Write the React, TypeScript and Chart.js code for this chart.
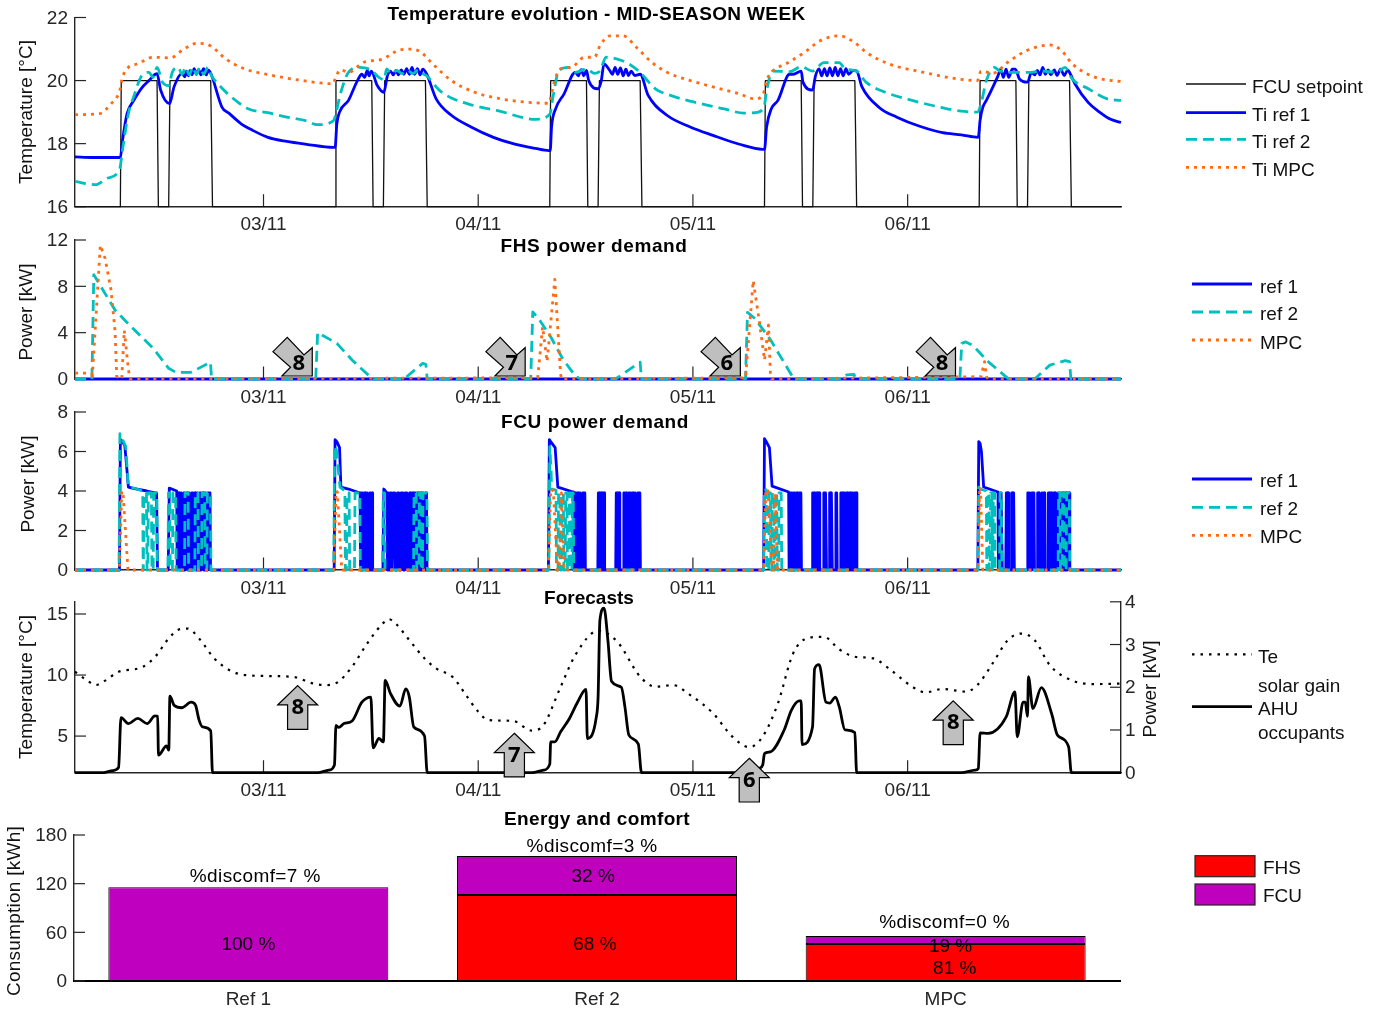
import React, { useEffect, useRef } from "react";
import { Chart, registerables } from "chart.js";

Chart.register(...registerables);

type Pair = [number, number];

// ---- time axis: hours since 02/11 00:00 ----
const xMin = 2.93;
const xMax = 119.85;
const xTickHours = [24, 48, 72, 96];
const xTickLabels = ["03/11", "04/11", "05/11", "06/11"];

// ---- Temperature panel ----
const fcuSetpoint: Pair[] = [
  [2.93, 16], [8, 16], [8.1, 20], [12.1, 20], [12.25, 16], [13.4, 16], [13.55, 20], [18.1, 20], [18.3, 16],
  [32, 16], [32.1, 20], [36.1, 20], [36.25, 16], [37.4, 16], [37.55, 20], [42.1, 20], [42.3, 16],
  [56, 16], [56.1, 20], [60.1, 20], [60.25, 16], [61.4, 16], [61.55, 20], [66.1, 20], [66.3, 16],
  [80, 16], [80.1, 20], [84.1, 20], [84.25, 16], [85.4, 16], [85.55, 20], [90.1, 20], [90.3, 16],
  [104, 16], [104.1, 20], [108.1, 20], [108.25, 16], [109.4, 16], [109.55, 20], [114.1, 20], [114.3, 16], [119.85, 16],
];
const tiRef1: Pair[] = [
  [2.93, 17.58], [4.8, 17.56], [8, 17.56], [8.24, 18.1], [8.75, 18.95], [9.5, 19.37], [10.4, 19.77], [11.2, 20], [11.9, 20.2], [12.1, 20.22],
  [12.5, 19.7], [13.5, 19.27], [14, 19.8], [14.9, 20.23], [15.2, 20.12], [15.4, 20.3], [15.6, 20.15], [15.8, 20.32], [16, 20.18], [16.25, 20.38], [16.5, 20.2], [16.75, 20.35], [17, 20.18], [17.3, 20.38], [17.6, 20.18], [17.85, 20.33], [18.15, 20.2],
  [19.35, 19.16], [20.2, 18.95], [21.5, 18.63], [22.8, 18.42], [24.5, 18.2], [26.6, 18.07], [28.8, 17.98], [31.8, 17.88], [32, 17.88],
  [32.2, 18.63], [32.5, 19], [33.5, 19.37], [34.5, 20], [35, 20.2], [35.3, 20.1], [35.6, 20.32], [35.8, 20.15], [36.05, 20.3],
  [36.7, 19.85], [37.45, 19.63], [37.85, 20.15], [38.2, 20.3], [38.5, 20.18], [38.8, 20.32], [39.1, 20.18], [39.4, 20.34], [39.7, 20.2], [40, 20.38], [40.3, 20.2], [40.6, 20.42], [40.9, 20.2], [41.2, 20.38], [41.5, 20.18], [41.8, 20.36], [42.25, 20.2],
  [43.3, 19.42], [45, 18.9], [47.2, 18.53], [49.7, 18.2], [51.9, 18], [54.4, 17.85], [55.9, 17.78], [56.05, 17.78],
  [56.2, 18.53], [56.65, 19.1], [57.6, 19.58], [58.85, 20.26], [59.2, 20.15], [59.5, 20.35], [59.8, 20.15], [60.1, 20.32],
  [60.35, 20], [61.4, 19.74], [61.76, 20], [62.06, 20.53], [62.7, 20.32], [63, 20.2], [63.3, 20.42], [63.6, 20.2], [63.9, 20.4], [64.2, 20.15], [64.5, 20.36], [64.8, 20.16], [65.1, 20.3], [65.5, 20.16], [66.1, 20.2],
  [67, 19.53], [69.1, 18.9], [71.7, 18.53], [74.25, 18.26], [77.2, 17.98], [79.8, 17.82], [80, 17.82],
  [80.24, 18.53], [80.75, 19.1], [81.5, 19.37], [82.8, 20.2], [83.2, 20.2], [84.1, 20.3], [84.3, 19.95], [85.37, 19.7], [85.7, 20.15], [86.1, 20.37],
  [86.4, 20.15], [86.7, 20.38], [87, 20.15], [87.3, 20.4], [87.6, 20.15], [87.9, 20.42], [88.2, 20.15], [88.5, 20.38], [88.8, 20.15], [89.1, 20.38], [89.4, 20.2], [89.9, 20.32], [90.3, 20.3],
  [90.9, 19.8], [92.85, 19.14], [94.8, 18.84], [97.35, 18.55], [99.9, 18.35], [102, 18.28], [103.9, 18.2],
  [104.1, 18.74], [104.4, 19.15], [104.8, 19.37], [106.1, 20.15], [106.4, 20.36], [106.7, 20.1], [107, 20.36], [107.3, 20.1], [107.7, 20.36], [108.04, 20.36],
  [108.5, 20.05], [109.4, 19.95], [109.84, 20.26], [110.2, 20.18], [110.5, 20.32], [110.8, 20.18], [111.1, 20.42], [111.4, 20.2], [111.7, 20.34], [112, 20.18], [112.4, 20.34], [112.7, 20.16], [113.1, 20.36], [113.5, 20.16], [113.9, 20.34], [114.2, 20.2],
  [114.7, 19.9], [116.2, 19.3], [117.45, 19], [118.7, 18.77], [119.85, 18.67],
];
const tiRef2: Pair[] = [
  [2.93, 16.8], [5.24, 16.7], [6.5, 16.9], [7.93, 17.2], [8.24, 17.8], [8.9, 18.95], [9.5, 19.5], [10.4, 20.16], [11.2, 20.26], [11.65, 20.1], [12.1, 20.42],
  [12.7, 19.95], [13.4, 19.84], [13.8, 20.26], [14.45, 20.42], [14.9, 20.2], [15.3, 20.42], [15.7, 20.18], [16.1, 20.42], [16.5, 20.2], [16.9, 20.42], [17.3, 20.2], [17.8, 20.42], [18.2, 20.15],
  [18.9, 19.9], [20.2, 19.53], [22.35, 19.1], [24.5, 18.98], [26.6, 18.84], [28.8, 18.72], [30, 18.6], [31.8, 18.72],
  [32.05, 18.9], [32.6, 19.58], [33.5, 20.26], [34.75, 20.42], [36, 20.34], [36.9, 20.1], [37.5, 20.03], [37.75, 20.37],
  [38.3, 20.22], [38.9, 20.32], [39.5, 20.22], [40.1, 20.32], [40.7, 20.22], [41.3, 20.34], [41.8, 20.22], [42.2, 20.16],
  [43.7, 19.68], [45, 19.45], [47.6, 19.2], [50.15, 19.05], [53.6, 18.79], [54.4, 18.77], [56, 18.93],
  [56.35, 19.47], [57, 20.3], [58.07, 20.42], [58.85, 20.26], [60.1, 20.37], [61, 20.23], [61.6, 20.3], [62.3, 20.74], [63.56, 20.68], [64.84, 20.53], [66.1, 20.26],
  [67.8, 19.74], [69.5, 19.53], [72.97, 19.26], [75.5, 19.1], [77.7, 18.97], [78.95, 18.98], [79.95, 19.16],
  [80.24, 19.68], [80.9, 20.3], [82.8, 20.28], [84.1, 20.44], [85.37, 20.3], [86.65, 20.57], [88.36, 20.57], [89, 20.37], [90.3, 20.3],
  [91.35, 19.95], [93.5, 19.63], [96.5, 19.37], [99.9, 19.14], [102, 19.03], [103.8, 19],
  [104.2, 19.26], [104.8, 20], [105.7, 20.42], [106.3, 20.3], [108, 20.26], [109.75, 20.26], [111, 20.3], [112.7, 20.26], [113.6, 20.42], [114.4, 20.05],
  [116.2, 19.74], [118.3, 19.42], [119.85, 19.37],
];
const tiMpc: Pair[] = [
  [2.93, 18.92], [5.66, 18.95], [6.95, 19.26], [7.93, 19.68], [8.24, 20.1], [8.9, 20.42], [9.95, 20.53], [11.65, 20.74], [13.6, 20.72], [15.1, 21], [16.6, 21.18], [18.1, 21.1],
  [19.8, 20.68], [21.9, 20.37], [24.5, 20.19], [27.9, 20.02], [31.8, 19.9],
  [32, 20.05], [32.6, 20.34], [33.5, 20.26], [35.2, 20.58], [37.3, 20.68], [39, 20.95], [40.5, 21], [41.6, 20.9], [42.9, 20.53],
  [45, 20], [47.6, 19.63], [50.15, 19.44], [53.15, 19.32], [55.9, 19.28],
  [56.1, 19.47], [56.55, 20], [57.2, 20.37], [58.4, 20.42], [59.9, 20.74], [61, 20.74], [61.6, 21.1], [62.7, 21.42], [64.2, 21.42], [65.7, 21.05],
  [67.4, 20.58], [69.1, 20.26], [71.7, 20], [74.25, 19.8], [77.2, 19.58], [78.95, 19.42], [79.8, 19.53],
  [80.24, 20], [80.9, 20.3], [82.4, 20.53], [84.5, 20.9], [86.2, 21.26], [88.36, 21.42], [90.1, 21.2], [91.35, 20.9],
  [93.9, 20.53], [97.8, 20.26], [101.6, 20.05], [103.8, 20],
  [104.2, 20.3], [105.5, 20.23], [107.2, 20.58], [109.3, 20.95], [111.9, 21.13], [113.2, 20.95], [114.4, 20.53], [117, 20.1], [119.85, 19.97],
];

// ---- FHS panel ----
const fhsRef1: Pair[] = [[2.93, 0], [119.85, 0]];
const fhsRef2: Pair[] = [
  [2.93, 0], [4.82, 0], [5.03, 9], [7.4, 5.96], [8.66, 4.95], [11.66, 2.65], [13.4, 0.92], [14.2, 0.58], [15.9, 0.58], [18.07, 1.44], [18.2, 0],
  [29.84, 0], [30.05, 4], [32.2, 3.08], [33.9, 1.64], [36, 0.14], [36.3, 0], [39.7, 0], [41.8, 1.35], [42.15, 1.27], [42.3, 0],
  [53.87, 0], [54.1, 5.8], [54.85, 5.1], [56.1, 3.65], [57.4, 1.8], [58.9, 0.2], [59.5, 0], [63.35, 0], [65.9, 1.35], [66.1, 1.44], [66.25, 0],
  [77.88, 0], [78.1, 5.75], [78.95, 5.2], [80.66, 3.4], [82.8, 0.63], [83.3, 0], [88.6, 0], [89.2, 0.35], [90, 0.4], [90.2, 0],
  [101.84, 0], [102.05, 3.08], [102.5, 3.2], [103.3, 2.9], [105, 1.5], [107.2, 0.05], [107.6, 0], [110.2, 0], [111.9, 1.2], [113.6, 1.58], [114.1, 1.5], [114.25, 0], [119.85, 0],
];
const fhsMpc: Pair[] = [
  [2.93, 0.5], [4.8, 0.5], [4.85, 0], [5.76, 11.55], [6.3, 10.4], [6.95, 7.7], [7.4, 4.2], [7.6, 0.2], [8.15, 0], [8.44, 4.2], [8.9, 0.8], [9.1, 0],
  [54.65, 0.1], [55.2, 4.5], [55.7, 1.5], [56.56, 8.6], [57.2, 0.5], [57.3, 0],
  [77.88, 0.1], [78.74, 8.5], [79.4, 5.1], [80, 1.64], [80.45, 4.66], [80.66, 0.5], [80.8, 0],
  [104.2, 0.2], [104.6, 1.5], [104.8, 0.2], [105, 0], [119.85, 0],
];

// ---- FCU panel: start-up envelopes and on/off pulses ----
const fcuOnLevel = 3.9;
const fcuRef1Head: Pair[] = [
  [2.93, 0], [7.9, 0], [8, 6.6], [8.15, 6.55], [8.5, 6.3], [8.9, 4.2], [9.45, 4.13], [10.95, 4], [11.9, 3.9], [12.05, 3.9], [12.15, 0], [13.35, 0], [13.47, 4.15], [14.3, 4], [14.35, 0],
  [31.9, 0], [32, 6.6], [32.2, 6.5], [32.5, 6.2], [32.65, 4.2], [33.5, 4.1], [34.8, 3.9], [34.85, 0], [37.35, 0], [37.45, 4.1], [37.8, 3.9], [37.85, 0],
  [55.85, 0], [55.95, 6.6], [56.1, 6.5], [56.6, 6.2], [56.9, 4.2], [58.6, 3.95], [58.65, 0],
  [79.9, 0], [80, 6.65], [80.2, 6.5], [80.55, 6.2], [80.85, 4.25], [82.7, 3.95], [82.75, 0],
  [103.85, 0], [103.95, 6.5], [104.1, 6.4], [104.25, 6], [104.5, 4.2], [106.1, 3.95], [106.15, 0], [119.85, 0],
];
const fcuRef1Pulses: Pair[] = [
  [14.45, 14.6], [14.75, 14.9], [15.05, 15.2], [15.35, 15.5], [15.65, 15.8], [15.95, 16.1], [16.25, 16.4], [16.55, 16.7], [16.85, 17], [17.15, 17.3], [17.45, 17.6], [17.75, 18.05],
  [34.95, 35.1], [35.25, 35.4], [35.55, 35.7], [35.85, 36], [36.1, 36.2],
  [37.95, 38.05], [38.2, 38.35], [38.5, 38.7], [38.95, 39.15], [39.35, 39.6], [39.8, 40.05], [40.3, 40.45], [40.6, 40.75], [40.9, 41.05], [41.2, 41.35], [41.5, 41.65], [41.8, 41.95], [42.1, 42.25],
  [58.75, 58.9], [59.05, 59.2], [59.35, 59.5], [59.65, 59.95],
  [61.4, 61.55], [61.65, 61.8], [61.9, 62.1], [63.4, 63.55], [63.65, 63.8], [64.25, 64.4], [64.5, 64.6], [64.8, 65.05], [65.2, 65.35], [65.5, 65.65], [65.8, 66.1],
  [82.9, 83.1], [83.25, 83.4], [83.55, 83.7], [83.85, 84.1], [85.35, 85.6], [85.8, 85.95], [86.05, 86.15], [86.6, 86.75], [86.8, 86.9], [87.25, 87.4], [87.45, 87.55], [87.95, 88.1], [88.5, 88.65], [88.72, 88.85], [89.1, 89.3], [89.45, 89.6], [89.75, 89.9], [90.05, 90.3],
  [106.2, 106.35], [106.42, 106.55], [107, 107.15], [107.2, 107.3], [107.6, 107.75], [107.8, 107.9], [109.4, 109.65], [109.85, 110.15], [110.5, 110.65], [110.7, 110.8], [111, 111.15], [111.2, 111.3], [111.7, 111.85], [111.95, 112.1], [112.3, 112.45], [112.5, 112.6], [112.8, 113.05], [113.2, 113.4], [113.55, 113.75], [113.9, 114.1],
];
const fcuRef2Head: Pair[] = [
  [2.93, 0], [7.85, 0], [7.95, 6.9], [8.15, 6.7], [8.6, 6.25], [8.9, 4.2], [9.5, 4.15], [10.5, 4], [10.55, 0],
  [31.85, 0], [31.95, 6.3], [32.15, 6.1], [32.55, 4.2], [33.1, 4], [33.15, 0],
  [55.9, 0], [56, 6.25], [56.15, 5], [56.2, 4.1], [56.7, 4.05], [56.75, 0],
  [79.9, 0], [80, 4.1], [80.2, 4.05], [80.25, 0],
  [103.85, 0], [103.95, 4.2], [104.1, 4.1], [104.8, 4], [104.85, 0], [119.85, 0],
];
const fcuRef2Pulses: Pair[] = [
  [10.6, 10.95], [11.1, 11.5], [11.7, 12.1], [13.35, 13.55], [13.85, 14.2], [15.2, 15.6], [16.35, 16.7], [17.1, 17.45], [17.7, 18.1],
  [33.3, 33.6], [34.2, 34.8], [37.35, 37.55], [40.8, 41.1], [41.4, 41.6], [41.8, 42.3],
  [56.95, 57.15], [57.35, 57.55], [57.75, 57.95], [58.15, 58.35], [58.5, 58.65],
  [80.5, 80.7], [80.85, 81.05], [81.2, 81.4], [81.6, 81.9],
  [104.9, 105.1], [105.25, 105.45], [105.55, 105.75], [106.3, 106.5], [112.85, 113.05], [113.3, 113.5], [113.75, 114.1],
];
const fcuMpc: Pair[] = [
  [2.93, 0], [7.9, 0], [8.15, 4], [8.3, 3.9], [8.85, 0],
  [31.85, 0], [32.1, 4], [32.25, 3.95], [32.75, 0],
  [55.85, 0], [56.1, 4.1], [56.4, 4], [56.85, 0], [57.05, 0], [57.3, 3.9], [57.6, 0],
  [79.9, 0], [80.15, 4.1], [80.4, 4], [80.85, 0], [81, 0], [81.2, 3.9], [81.45, 0],
  [103.85, 0], [104.05, 4.2], [104.15, 4.1], [104.4, 0], [119.85, 0],
];

// ---- Forecast panel ----
const te: Pair[] = [
  [2.93, 10.27], [4.2, 9.6], [5.24, 9.18], [6.3, 9.54], [7.8, 10.27], [10.4, 10.63], [11.9, 11.5], [13.4, 13], [14.65, 13.76], [15.5, 13.81], [16.8, 13], [18.5, 11.36], [20.2, 10.4], [21.9, 10], [24.5, 9.92], [27.7, 9.8], [29.2, 9.37], [30.9, 9.18],
  [32.2, 9.37], [33.9, 10.68], [35.6, 12.6], [37.3, 14.2], [38, 14.58], [38.8, 14.2], [40.3, 12.86], [42, 11.36], [43.3, 10.54], [45.2, 9.8], [46.5, 8.5], [48, 7], [49.1, 6.32], [51.9, 6.24], [54, 5.45], [55.3, 5.9],
  [57.14, 8.9], [58.85, 11.63], [61.4, 13.62], [63.56, 12.72], [66.1, 9.86], [67.8, 9.05], [69.76, 9.18], [71.7, 8.36], [74.25, 6.87], [76.4, 4.96], [78.3, 4.09], [79.8, 4.96],
  [81.5, 7.68], [83.2, 11.77], [84.94, 13.05], [86.65, 13.13], [88.36, 12.1], [90.1, 11.5], [92.2, 11.36], [93.9, 10.54], [96.5, 9.05], [98, 8.58], [99.9, 8.86], [102.5, 8.64], [103.8, 9.18],
  [105.5, 10.95], [107.2, 12.86], [108.7, 13.4], [110.2, 12.86], [111.9, 10.8], [114.45, 9.54], [117, 9.26], [119.85, 9.3],
];
const gains: Pair[] = [
  [2.93, 0], [6.1, 0], [7.15, 0.05], [7.8, 0.12], [8.07, 1.29], [8.9, 1.15], [9.95, 1.27], [11, 1.15], [11.87, 1.33], [12.17, 1.32], [12.26, 0.41], [13.16, 0.63], [13.41, 0.53], [13.54, 1.79], [14, 1.58], [14.87, 1.52], [15.9, 1.65], [16.4, 1.58], [16.8, 1.23], [17.2, 1.07], [18.1, 0.98], [18.3, 0],
  [30.05, 0], [31.3, 0.06], [31.93, 0.18], [32.1, 1.11], [32.4, 1.06], [33, 1.15], [33.9, 1.21], [35, 1.65], [36, 1.77], [36.25, 0.58], [36.9, 0.8], [37.4, 0.72], [37.6, 2.16], [38.2, 1.85], [39.25, 1.56], [39.9, 1.96], [40.3, 1.77], [40.8, 1.07], [42, 0.86], [42.3, 0],
  [54, 0], [55.3, 0.06], [56, 0.2], [56.1, 0.72], [56.55, 0.72], [57.2, 0.95], [58.2, 1.27], [59.1, 1.65], [60.05, 1.95], [60.2, 0.8], [61.2, 1.3], [61.4, 1.77], [61.6, 3.56], [62.06, 3.85], [62.5, 3.09], [62.9, 2.14], [64, 2], [64.4, 1.54], [64.84, 0.88], [65.9, 0.67], [66.25, 0],
  [78.5, 0], [79.4, 0.1], [79.8, 0.18], [80, 0.45], [80.66, 0.49], [82.2, 1], [83, 1.46], [83.87, 1.68], [84.1, 1.68], [84.2, 0.66], [85.37, 1.07], [85.6, 2.43], [86.1, 2.53], [86.87, 1.65], [87.3, 1.63], [87.93, 1.77], [88.36, 1.54], [89, 1], [90.1, 0.94], [90.3, 0],
  [102, 0], [103.55, 0.06], [103.9, 0.1], [104.1, 0.93], [105, 0.92], [107, 1.3], [108, 1.89], [108.25, 0.84], [108.9, 1.65], [109.15, 1.65], [109.4, 1.32], [109.5, 2.25], [110, 1.5], [110.95, 1.99], [112.1, 1.38], [112.75, 0.88], [114, 0.6], [114.3, 0], [119.85, 0],
];

// ---- Callout arrows: [hour, value, number] ----
const fhsArrows: [number, number, string][] = [
  [29.45, 0.26, "8"], [53.25, 0.26, "7"], [77.3, 0.26, "6"], [101.35, 0.26, "8"],
];
const forecastArrows: [number, number, string][] = [
  [27.82, 9.13, "8"], [52.04, 5.23, "7"], [78.3, 3.18, "6"], [101.1, 7.88, "8"],
];

// ---- Energy panel ----
const barCategories = ["Ref 1", "Ref 2", "MPC"];
const energyFhs = [0, 106, 45.5];
const energyFcu = [115.5, 48, 10];
const barNotes: [number, number, string][] = [
  [0.0, 45.6, "100 %"], [0.994, 45.6, "68 %"], [0.989, 129.5, "32 %"], [2.014, 43, "19 %"], [2.026, 16, "81 %"],
  [0.02, 129.5, "%discomf=7 %"], [0.986, 166.5, "%discomf=3 %"], [1.997, 72.7, "%discomf=0 %"],
];

// ---- shared styles ----
const FONT = '"Liberation Sans", Arial, sans-serif';
const FONT_SIZE = 19;
const INK = "#262626";
const BLUE = "#0000ff";
const CYAN = "#00bfbf";
const ORANGE = "#ff6a13";
const RED = "#ff0000";
const PURPLE = "#bf00bf";

const AREA_LEFT = 75;
const AREA_RIGHT = 1121;
const PAGE_W = 1384;

const pts = (a: Pair[]) => a.map(([x, y]) => ({ x, y }));
function withPulses(head: Pair[], pulses: Pair[]) {
  const out: Pair[] = [...head];
  for (const [on, off] of pulses) {
    out.push([on - 0.03, 0], [on + 0.03, fcuOnLevel], [off - 0.03, fcuOnLevel], [off + 0.03, 0]);
  }
  return pts(out.sort((a, b) => a[0] - b[0]));
}
const line = (data: any[], color: string, width: number, dash: number[], order: number, yAxisID = "y", smooth = false) => ({
  data, borderColor: color, backgroundColor: color, borderWidth: width, borderDash: dash, order, yAxisID,
  showLine: true, pointRadius: 0, clip: false, borderCapStyle: "butt", borderJoinStyle: "round",
  ...(smooth ? { cubicInterpolationMode: "monotone" } : { tension: 0 }),
});
const W = 2.8;
const DASH = [11, 6];
const DOT = [3, 5];
const TEDOT = [2.5, 6];

type TextItem = { text: string; x: number; y: number; rot?: boolean; bold?: boolean; spacing?: number };
type LegendItem = { ds: number; x0: number; x1: number; y: number };
type Panel = {
  top: number; height: number; areaTop: number; areaBottom: number;
  kind: "scatter" | "bar";
  datasets: any[];
  y: { min: number; max: number; ticks: number[] };
  y2?: { min: number; max: number; ticks: number[] };
  texts: TextItem[];
  legend: LegendItem[];
  boxes?: { color: string; x0: number; x1: number; y0: number; y1: number }[];
  calloutDiag?: [number, number, string][];
  calloutUp?: [number, number, string][];
};

const DIAG: Pair[] = [[0, 0], [0, -28.3], [-8.3, -21], [-25, -38.7], [-39.3, -24.3], [-21.7, -8.7], [-30.3, 0]];
const UP: Pair[] = [[0, 0], [20, 19.3], [10.1, 19.3], [10.1, 43.7], [-10.1, 43.7], [-10.1, 19.3], [-20, 19.3]];

const panels: Panel[] = [
  {
    top: 0, height: 235, areaTop: 17.5, areaBottom: 206.7, kind: "scatter",
    datasets: [
      line(pts(fcuSetpoint), "#111111", 1.3, [], 4),
      line(pts(tiRef1), BLUE, W, [], 3, "y", true),
      line(pts(tiRef2), CYAN, W, DASH, 2, "y", true),
      line(pts(tiMpc), ORANGE, W, DOT, 1, "y", true),
    ],
    y: { min: 16, max: 22, ticks: [16, 18, 20, 22] },
    texts: [
      { text: "Temperature evolution - MID-SEASON WEEK", x: 596.5, y: 14, bold: true, spacing: 0.36 },
      { text: "Temperature [°C]", x: 26, y: 112, rot: true },
      { text: "FCU setpoint", x: 1252, y: 87 },
      { text: "Ti ref 1", x: 1252, y: 115 },
      { text: "Ti ref 2", x: 1252, y: 142 },
      { text: "Ti MPC", x: 1252, y: 170 },
    ],
    legend: [
      { ds: 0, x0: 1186, x1: 1246, y: 84 },
      { ds: 1, x0: 1186, x1: 1246, y: 112.7 },
      { ds: 2, x0: 1186, x1: 1246, y: 139.3 },
      { ds: 3, x0: 1186, x1: 1246, y: 167.3 },
    ],
  },
  {
    top: 226, height: 185, areaTop: 240, areaBottom: 379, kind: "scatter",
    datasets: [
      line(pts(fhsRef1), BLUE, W, [], 3),
      line(pts(fhsRef2), CYAN, W, DASH, 2),
      line(pts(fhsMpc), ORANGE, W, DOT, 1),
    ],
    y: { min: 0, max: 12, ticks: [0, 4, 8, 12] },
    calloutDiag: fhsArrows,
    texts: [
      { text: "FHS power demand", x: 594, y: 246, bold: true, spacing: 0.6 },
      { text: "Power [kW]", x: 26, y: 312, rot: true },
      { text: "ref 1", x: 1260, y: 287 },
      { text: "ref 2", x: 1260, y: 314 },
      { text: "MPC", x: 1260, y: 343 },
    ],
    legend: [
      { ds: 0, x0: 1192, x1: 1252, y: 284 },
      { ds: 1, x0: 1192, x1: 1252, y: 312 },
      { ds: 2, x0: 1192, x1: 1252, y: 340 },
    ],
  },
  {
    top: 400, height: 200, areaTop: 412, areaBottom: 570, kind: "scatter",
    datasets: [
      line(withPulses(fcuRef1Head, fcuRef1Pulses), BLUE, W, [], 3),
      line(withPulses(fcuRef2Head, fcuRef2Pulses), CYAN, W, DASH, 2),
      line(pts(fcuMpc), ORANGE, W, DOT, 1),
    ],
    y: { min: 0, max: 8, ticks: [0, 2, 4, 6, 8] },
    texts: [
      { text: "FCU power demand", x: 595, y: 422, bold: true, spacing: 0.6 },
      { text: "Power [kW]", x: 28, y: 484, rot: true },
      { text: "ref 1", x: 1260, y: 481 },
      { text: "ref 2", x: 1260, y: 509 },
      { text: "MPC", x: 1260, y: 537 },
    ],
    legend: [
      { ds: 0, x0: 1192, x1: 1252, y: 479 },
      { ds: 1, x0: 1192, x1: 1252, y: 507.3 },
      { ds: 2, x0: 1192, x1: 1252, y: 535.3 },
    ],
  },
  {
    top: 585, height: 222, areaTop: 601.8, areaBottom: 772.7, kind: "scatter",
    datasets: [
      line(pts(te), "#000000", 2.2, TEDOT, 2, "y", true),
      line(pts(gains), "#000000", 2.8, [], 1, "y2", true),
    ],
    y: { min: 2, max: 16, ticks: [5, 10, 15] },
    y2: { min: 0, max: 4, ticks: [0, 1, 2, 3, 4] },
    calloutUp: forecastArrows,
    texts: [
      { text: "Forecasts", x: 589, y: 598, bold: true, spacing: 0 },
      { text: "Temperature [°C]", x: 26, y: 687, rot: true },
      { text: "Power [kW]", x: 1150, y: 689, rot: true },
      { text: "Te", x: 1258, y: 657 },
      { text: "solar gain", x: 1258, y: 686 },
      { text: "AHU", x: 1258, y: 709 },
      { text: "occupants", x: 1258, y: 733 },
    ],
    legend: [
      { ds: 0, x0: 1192, x1: 1252, y: 654.3 },
      { ds: 1, x0: 1192, x1: 1252, y: 706.7 },
    ],
  },
  {
    top: 805, height: 206, areaTop: 835, areaBottom: 981, kind: "bar",
    datasets: [
      { label: "FHS", data: energyFhs, backgroundColor: RED, borderColor: "#000", borderWidth: 1, borderSkipped: false, barPercentage: 0.803, categoryPercentage: 1 },
      { label: "FCU", data: energyFcu, backgroundColor: PURPLE, borderColor: "#000", borderWidth: 1, borderSkipped: false, barPercentage: 0.803, categoryPercentage: 1 },
    ],
    y: { min: 0, max: 180, ticks: [0, 60, 120, 180] },
    texts: [
      { text: "Energy and comfort", x: 597, y: 819, bold: true, spacing: 0.37 },
      { text: "Consumption [kWh]", x: 14, y: 911, rot: true, spacing: 0.25 },
      { text: "FHS", x: 1263, y: 868 },
      { text: "FCU", x: 1263, y: 896 },
    ],
    legend: [],
    boxes: [
      { color: RED, x0: 1195, x1: 1255, y0: 855.7, y1: 876.7 },
      { color: PURPLE, x0: 1195, x1: 1255, y0: 884, y1: 905 },
    ],
  },
];

function makeDecor(p: Panel) {
  return {
    id: "decor",
    beforeDatasetsDraw(chart: any) {
      const { ctx, chartArea, scales } = chart;
      ctx.save();
      ctx.strokeStyle = INK;
      ctx.lineWidth = 1.2;
      const yTicks = (s: any, x: number, dir: number) => {
        for (const t of s.ticks) {
          const py = s.getPixelForValue(t.value);
          ctx.beginPath();
          ctx.moveTo(x, py);
          ctx.lineTo(x + dir * 11, py);
          ctx.stroke();
        }
      };
      yTicks(scales.y, chartArea.left, 1);
      if (scales.y2) yTicks(scales.y2, chartArea.right, -1);
      if (p.kind === "scatter") {
        for (const t of scales.x.ticks) {
          const px = scales.x.getPixelForValue(t.value);
          ctx.beginPath();
          ctx.moveTo(px, chartArea.bottom);
          ctx.lineTo(px, chartArea.bottom - 12.5);
          ctx.stroke();
        }
      }
      ctx.restore();
    },
    afterDraw(chart: any) {
      const { ctx, scales } = chart;
      const offY = p.top;
      ctx.save();
      const arrow = (shape: Pair[], hour: number, val: number, scaleY: any, label: string, dx: number, dy: number) => {
        const tx = scales.x.getPixelForValue(hour);
        const ty = scaleY.getPixelForValue(val);
        ctx.beginPath();
        shape.forEach(([sx, sy], i) => (i ? ctx.lineTo(tx + sx, ty + sy) : ctx.moveTo(tx + sx, ty + sy)));
        ctx.closePath();
        ctx.fillStyle = "#bfbfbf";
        ctx.strokeStyle = "#000";
        ctx.lineWidth = 1.2;
        ctx.fill();
        ctx.stroke();
        ctx.fillStyle = "#000";
        ctx.font = `bold 22px "Open Sans", ${FONT}`;
        ctx.textAlign = "center";
        ctx.textBaseline = "middle";
        ctx.fillText(label, tx + dx, ty + dy);
      };
      (p.calloutDiag || []).forEach(([h, v, l]) => arrow(DIAG, h, v, scales.y, l, -13.5, -12.5));
      (p.calloutUp || []).forEach(([h, v, l]) => arrow(UP, h, v, scales.y, l, 0, 22));

      if (p.kind === "bar") {
        ctx.fillStyle = "#000";
        ctx.textAlign = "center";
        ctx.textBaseline = "middle";
        barNotes.forEach(([c, v, t]) => {
          const base = Math.round(c);
          const band = scales.x.getPixelForValue(1) - scales.x.getPixelForValue(0);
          ctx.save();
          ctx.font = `${FONT_SIZE}px ${FONT}`;
          (ctx as any).letterSpacing = t.startsWith("%") ? "0.4px" : "0px";
          ctx.fillText(t, scales.x.getPixelForValue(base) + (c - base) * band, scales.y.getPixelForValue(v) + 1);
          ctx.restore();
        });
      }

      p.legend.forEach((l) => {
        const d = chart.data.datasets[l.ds];
        ctx.beginPath();
        ctx.setLineDash(d.borderDash || []);
        ctx.strokeStyle = d.borderColor;
        ctx.lineWidth = d.borderWidth;
        ctx.moveTo(l.x0, l.y - offY);
        ctx.lineTo(l.x1, l.y - offY);
        ctx.stroke();
      });
      ctx.setLineDash([]);
      (p.boxes || []).forEach((b) => {
        ctx.fillStyle = b.color;
        ctx.strokeStyle = "#262626";
        ctx.lineWidth = 1.2;
        ctx.fillRect(b.x0, b.y0 - offY, b.x1 - b.x0, b.y1 - b.y0);
        ctx.strokeRect(b.x0, b.y0 - offY, b.x1 - b.x0, b.y1 - b.y0);
      });

      p.texts.forEach((t) => {
        ctx.save();
        ctx.font = `${t.bold ? "bold " : ""}${FONT_SIZE}px ${FONT}`;
        (ctx as any).letterSpacing = `${t.spacing || 0}px`;
        ctx.fillStyle = t.bold ? "#000" : "#111";
        ctx.textBaseline = "middle";
        if (t.rot) {
          ctx.translate(t.x + 1, t.y - offY);
          ctx.rotate(-Math.PI / 2);
          ctx.textAlign = "center";
          ctx.fillText(t.text, 0, 0);
        } else {
          ctx.textAlign = t.bold ? "center" : "left";
          ctx.fillText(t.text, t.x, t.y - offY + 1);
        }
        ctx.restore();
      });
      ctx.restore();
    },
  };
}

function makeConfig(p: Panel): any {
  const tickFont = { family: FONT, size: FONT_SIZE };
  const padTop = p.areaTop - p.top;
  const xHeight = p.height - (p.areaBottom - p.top);
  const isBar = p.kind === "bar";
  const left = isBar ? 74 : AREA_LEFT;
  const yScale = (cfg: { min: number; max: number; ticks: number[] }, position: string, width: number, pad: number) => ({
    type: "linear",
    position,
    min: cfg.min,
    max: cfg.max,
    stacked: isBar,
    grid: { display: false, drawTicks: false },
    border: { display: true, color: INK, width: 1.4 },
    ticks: { font: tickFont, color: INK, padding: pad, autoSkip: false, maxRotation: 0, labelOffset: 1 },
    afterBuildTicks: (s: any) => { s.ticks = cfg.ticks.map((value) => ({ value })); },
    afterFit: (s: any) => { s.width = width; s.paddingTop = 0; s.paddingBottom = 0; },
  });
  const scales: any = {
    y: yScale(p.y, "left", left, 7),
    x: isBar
      ? {
          type: "category", stacked: true,
          grid: { display: false, drawTicks: false },
          border: { display: true, color: "#000", width: 2 },
          ticks: { font: tickFont, color: INK, padding: 7, maxRotation: 0 },
          afterFit: (s: any) => { s.height = xHeight; s.paddingLeft = 0; s.paddingRight = 0; },
        }
      : {
          type: "linear", min: xMin, max: xMax,
          grid: { display: false, drawTicks: false },
          border: { display: true, color: INK, width: 1.4 },
          ticks: {
            font: tickFont, color: INK, padding: 7, autoSkip: false, maxRotation: 0,
            callback: (v: number) => xTickLabels[xTickHours.indexOf(v)] ?? "",
          },
          afterBuildTicks: (s: any) => { s.ticks = xTickHours.map((value) => ({ value })); },
          afterFit: (s: any) => { s.height = xHeight; s.paddingLeft = 0; s.paddingRight = 0; },
        },
  };
  if (p.y2) scales.y2 = yScale(p.y2, "right", PAGE_W - AREA_RIGHT, 4);
  const rightPad = p.y2 ? 0 : PAGE_W - AREA_RIGHT + (isBar ? 1 : 0);
  return {
    type: p.kind,
    data: isBar ? { labels: barCategories, datasets: p.datasets } : { datasets: p.datasets },
    options: {
      animation: false,
      responsive: false,
      devicePixelRatio: 1,
      layout: { padding: { top: padTop, left: 0, bottom: 0, right: rightPad } },
      plugins: { legend: { display: false }, title: { display: false }, tooltip: { enabled: false } },
      scales,
    },
    plugins: [makeDecor(p)],
  };
}

function PanelCanvas({ panel }: { panel: Panel }) {
  const ref = useRef<HTMLCanvasElement>(null);
  useEffect(() => {
    const chart = new Chart(ref.current as HTMLCanvasElement, makeConfig(panel));
    return () => chart.destroy();
  }, [panel]);
  return (
    <canvas
      ref={ref}
      width={PAGE_W}
      height={panel.height}
      style={{ position: "absolute", left: 0, top: panel.top, width: PAGE_W, height: panel.height, display: "block" }}
    />
  );
}

export default function App() {
  return (
    <div style={{ position: "absolute", left: 0, top: 0, width: PAGE_W, height: 1011, overflow: "hidden", background: "#fff" }}>
      {panels.map((p, i) => (
        <PanelCanvas key={i} panel={p} />
      ))}
    </div>
  );
}
